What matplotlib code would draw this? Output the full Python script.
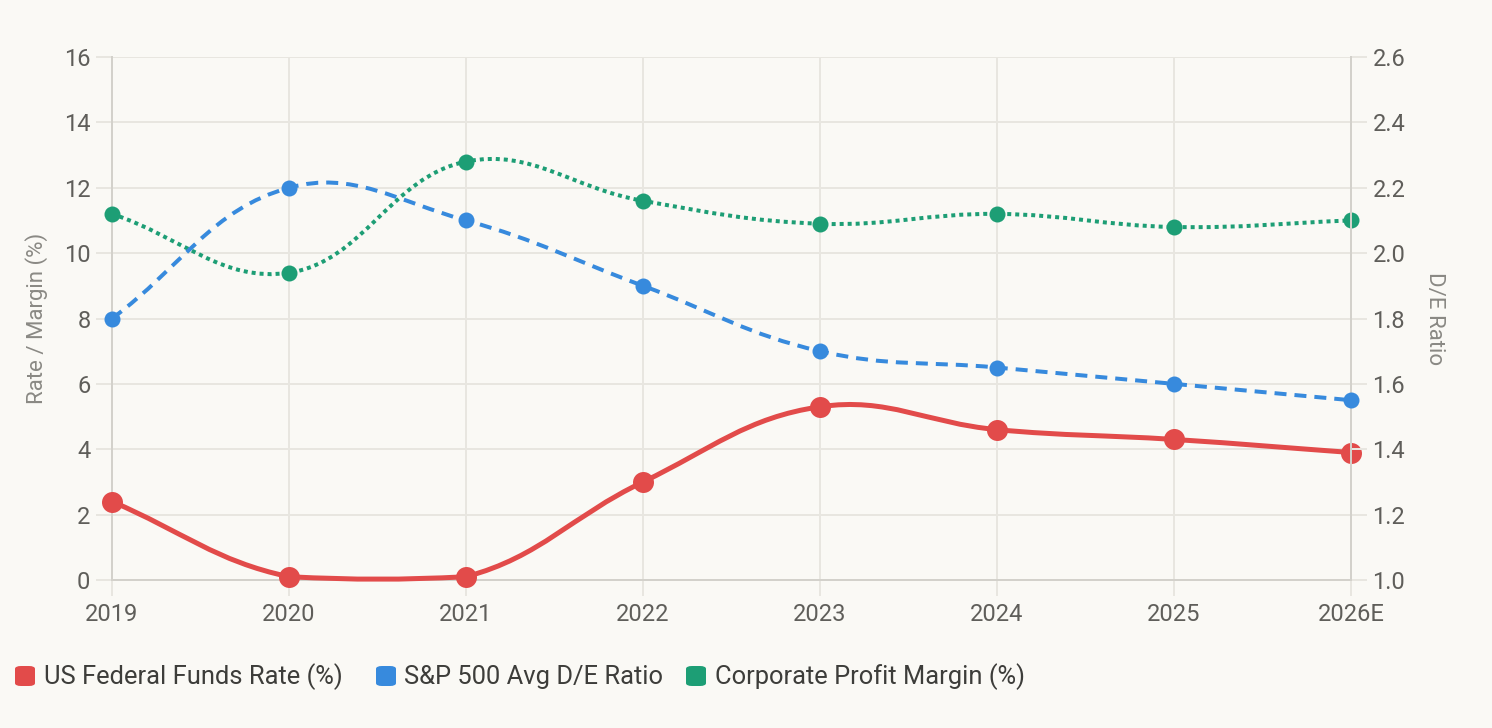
import numpy as np
import matplotlib
matplotlib.use("Agg")
import matplotlib.pyplot as plt
from matplotlib.path import Path
from matplotlib.patches import PathPatch, FancyBboxPatch

years = ["2019", "2020", "2021", "2022", "2023", "2024", "2025", "2026E"]
fed_rate = [2.4, 0.1, 0.1, 3.0, 5.3, 4.6, 4.3, 3.9]
de_ratio = [1.8, 2.2, 2.1, 1.9, 1.7, 1.65, 1.6, 1.55]
profit_margin = [11.2, 9.4, 12.8, 11.6, 10.9, 11.2, 10.8, 11.0]

series_names = ["US Federal Funds Rate (%)", "S&P 500 Avg D/E Ratio", "Corporate Profit Margin (%)"]

RED = "#e24b4a"
BLUE = "#378add"
GREEN = "#1d9e75"
BG = "#faf9f5"
GRID = "#e8e6e0"
AXIS = "#d3d1cb"
TICK_TXT = "#5f5e5a"
TITLE_TXT = "#8a8984"
LEG_TXT = "#3d3d3a"

plt.rcParams["font.family"] = ["Roboto", "DejaVu Sans"]

W, H = 1492, 728
PX = 72 / 100  # points per pixel


def spline_patch(xs, ys, sx, sy, ylim, tension=0.4, **kw):
    """Chart.js style bezier through the points (control points worked out in pixel space)."""
    p = np.column_stack([np.asarray(xs, float) * sx, np.asarray(ys, float) * sy])
    n = len(p)
    cp_prev = np.zeros_like(p)
    cp_next = np.zeros_like(p)
    for i in range(n):
        a = p[max(i - 1, 0)]
        b = p[min(i + 1, n - 1)]
        d01 = np.hypot(*(p[i] - a))
        d12 = np.hypot(*(b - p[i]))
        tot = d01 + d12
        s01 = d01 / tot if tot else 0
        s12 = d12 / tot if tot else 0
        cp_prev[i] = p[i] - tension * s01 * (b - a)
        cp_next[i] = p[i] + tension * s12 * (b - a)
    # back to data units, capped to the chart area
    for c in (cp_prev, cp_next):
        c[:, 0] /= sx
        c[:, 1] /= sy
        c[:, 0] = np.clip(c[:, 0], 0, n - 1)
        c[:, 1] = np.clip(c[:, 1], ylim[0], ylim[1])
    pts = p / [sx, sy]
    verts = [pts[0]]
    codes = [Path.MOVETO]
    for i in range(1, n):
        verts += [cp_next[i - 1], cp_prev[i], pts[i]]
        codes += [Path.CURVE4] * 3
    return PathPatch(Path(verts, codes), fill=False, clip_on=False, **kw)


fig = plt.figure(figsize=(W / 100, H / 100), dpi=100, facecolor=BG)
x0, x1, y0, y1 = 112, 1351, 57, 580
ax = fig.add_axes([x0 / W, 1 - y1 / H, (x1 - x0) / W, (y1 - y0) / H])
ax.set_facecolor(BG)
ax2 = ax.twinx()

x = np.arange(len(years))
sx = (x1 - x0) / (len(years) - 1)
sy_left = (y1 - y0) / 16
sy_right = (y1 - y0) / 1.6

# left axis: rate and margin
ax.add_patch(spline_patch(x, profit_margin, sx, sy_left, (0, 16), edgecolor=GREEN,
                          linewidth=4 * PX, linestyle=(0, (1.0, 1.0)), zorder=2))
ax.plot(x, profit_margin, "o", color=GREEN, ms=16 * PX, mew=0, clip_on=False, zorder=3)
ax.add_patch(spline_patch(x, fed_rate, sx, sy_left, (0, 16), edgecolor=RED,
                          linewidth=5 * PX, zorder=4))
ax.plot(x, fed_rate, "o", color=RED, ms=21 * PX, mew=0, clip_on=False, zorder=5)

# right axis: D/E ratio (values shifted so the spline works from the axis floor)
de_shift = np.array(de_ratio) - 1.0
ax2.add_patch(spline_patch(x, de_shift, sx, sy_right, (0, 1.6), edgecolor=BLUE,
                           linewidth=4 * PX, linestyle=(0, (3.0, 2.0)), zorder=2))
ax2.plot(x, de_shift, "o", color=BLUE, ms=16 * PX, mew=0, clip_on=False, zorder=3)

ax.set_xlim(0, len(years) - 1)
ax.set_ylim(0, 16)
ax2.set_ylim(0, 1.6)

ax.set_xticks(x)
ax.set_xticklabels(years)
ax.set_yticks(np.arange(0, 17, 2))
right_ticks = np.arange(0, 1.61, 0.2)
ax2.set_yticks(right_ticks)
ax2.set_yticklabels([f"{v + 1.0:.1f}" for v in right_ticks])

ax.grid(True, color=GRID, linewidth=2 * PX)
ax.set_axisbelow(True)
ax2.grid(False)

for a in (ax, ax2):
    for s in a.spines.values():
        s.set_visible(False)
ax.spines["left"].set_visible(True)
ax.spines["bottom"].set_visible(True)
ax2.spines["right"].set_visible(True)
for s in (ax.spines["left"], ax.spines["bottom"], ax2.spines["right"]):
    s.set_color(AXIS)
    s.set_linewidth(2 * PX)

ax.tick_params(axis="both", length=16 * PX, width=2 * PX, color=GRID,
               labelsize=17, labelcolor=TICK_TXT)
ax.tick_params(axis="x", pad=5)
ax.tick_params(axis="y", pad=4)
ax2.tick_params(axis="y", length=16 * PX, width=2 * PX, color=GRID,
                labelsize=17, labelcolor=TICK_TXT, pad=4)

ax.set_ylabel("Rate / Margin (%)", fontsize=16, color=TITLE_TXT, va="center")
ax.yaxis.set_label_coords((37 - x0) / (x1 - x0), 0.5)
ax2.set_ylabel("D/E Ratio", fontsize=16, color=TITLE_TXT, rotation=270, va="center")
ax2.yaxis.set_label_coords((1434 - x0) / (x1 - x0), 0.5)

# legend row
leg_items = [(15, 44, RED), (376, 404, BLUE), (686, 715, GREEN)]
for (bx, tx, col), name in zip(leg_items, series_names):
    fig.add_artist(FancyBboxPatch((bx / W, 1 - 686 / H), 20 / W, 20 / H,
                                  boxstyle="round,pad=0,rounding_size=0.004",
                                  transform=fig.transFigure, facecolor=col, edgecolor="none"))
    fig.text(tx / W, 1 - 677 / H, name, fontsize=18.4, color=LEG_TXT, va="center", ha="left")

fig.savefig("out.png", dpi=100, facecolor=BG)
